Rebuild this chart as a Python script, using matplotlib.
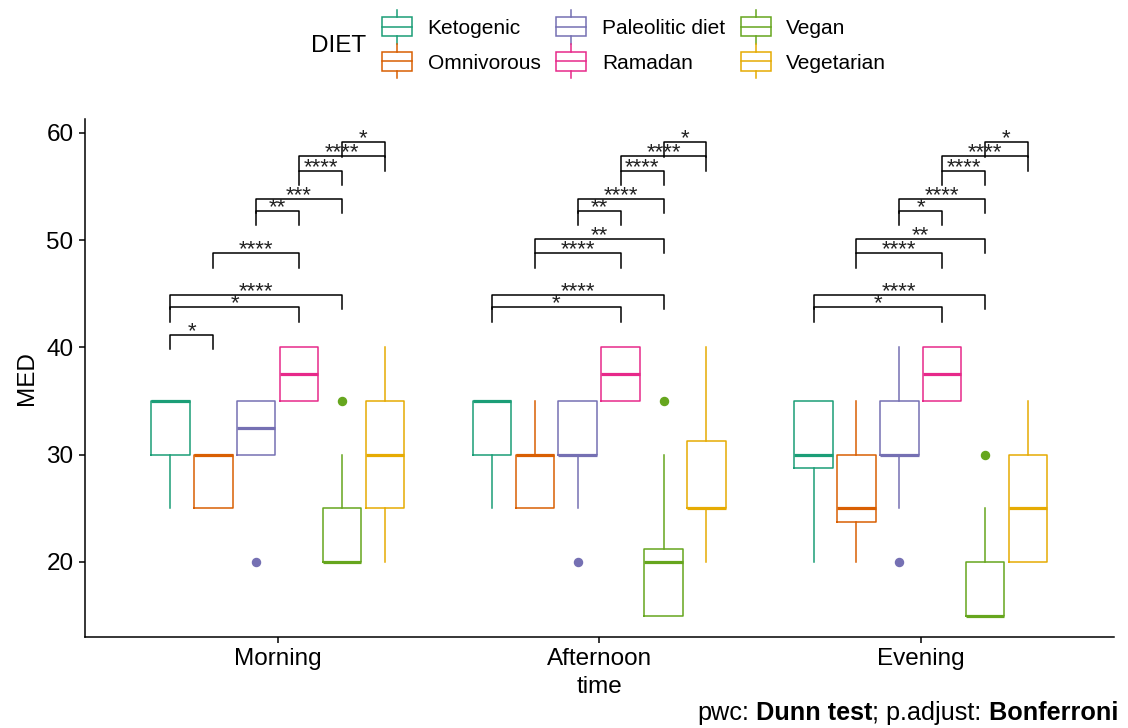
import matplotlib
matplotlib.use('Agg')
import matplotlib.pyplot as plt
from matplotlib.patches import Patch, Rectangle
from matplotlib.lines import Line2D
from matplotlib.legend_handler import HandlerBase

plt.rcParams['font.family'] = ['Liberation Sans', 'DejaVu Sans']

times = ['Morning', 'Afternoon', 'Evening']
diets = ['Ketogenic', 'Omnivorous', 'Paleolitic diet', 'Ramadan', 'Vegan', 'Vegetarian']
colors = ['#1B9E77', '#D95F02', '#7570B3', '#E7298A', '#66A61E', '#E6AB02']

# box stats per diet, one value per time (Morning, Afternoon, Evening)
q1 = [[30, 30, 28.75], [25, 25, 23.75], [30, 30, 30], [35, 35, 35], [20, 15, 15], [25, 25, 20]]
med = [[35, 35, 30], [30, 30, 25], [32.5, 30, 30], [37.5, 37.5, 37.5], [20, 20, 15], [30, 25, 25]]
q3 = [[35, 35, 35], [30, 30, 30], [35, 35, 35], [40, 40, 40], [25, 21.25, 20], [35, 31.25, 30]]
whislo = [[25, 25, 20], [25, 25, 20], [30, 25, 25], [35, 35, 35], [20, 15, 15], [20, 20, 20]]
whishi = [[35, 35, 35], [30, 35, 35], [35, 35, 40], [40, 40, 40], [30, 30, 25], [40, 40, 35]]
fliers = [[[], [], []], [[], [], []], [[20], [20], [20]], [[], [], []], [[35], [35], [30]], [[], [], []]]

# pairwise comparisons: (diet index 1, diet index 2, bracket height, label)
pwc_morning = [(0, 1, 41.18, '*'), (0, 3, 43.73, '*'), (0, 4, 44.91, '****'), (1, 3, 48.79, '****'),
               (2, 3, 52.74, '**'), (2, 4, 53.86, '***'), (3, 4, 56.47, '****'), (3, 5, 57.81, '****'),
               (4, 5, 59.15, '*')]
pwc_afternoon = [(0, 3, 43.73, '*'), (0, 4, 44.91, '****'), (1, 3, 48.79, '****'), (1, 4, 50.13, '**'),
                 (2, 3, 52.74, '**'), (2, 4, 53.86, '****'), (3, 4, 56.47, '****'), (3, 5, 57.81, '****'),
                 (4, 5, 59.15, '*')]
pwc_evening = [(0, 3, 43.73, '*'), (0, 4, 44.91, '****'), (1, 3, 48.79, '****'), (1, 4, 50.13, '**'),
               (2, 3, 52.74, '*'), (2, 4, 53.86, '****'), (3, 4, 56.47, '****'), (3, 5, 57.81, '****'),
               (4, 5, 59.15, '*')]
pwc = [pwc_morning, pwc_afternoon, pwc_evening]


class BoxKey(HandlerBase):
    def create_artists(self, legend, orig_handle, xdescent, ydescent, width, height, fontsize, trans):
        c = orig_handle.get_edgecolor()
        x0 = -xdescent
        cx = x0 + width / 2
        cy = -ydescent + height / 2
        bh = 0.92 * fontsize
        sh = 1.62 * fontsize
        rect = Rectangle((x0, cy - bh / 2), width, bh, fill=False, ec=c, lw=1.1, transform=trans)
        mline = Line2D([x0, x0 + width], [cy, cy], color=c, lw=1.1, transform=trans)
        top = Line2D([cx, cx], [cy + bh / 2, cy + sh / 2], color=c, lw=1.1, transform=trans)
        bot = Line2D([cx, cx], [cy - bh / 2, cy - sh / 2], color=c, lw=1.1, transform=trans)
        return [rect, mline, top, bot]


fig = plt.figure(figsize=(11.28, 7.28), dpi=100)
ax = fig.add_axes([0.0751, 0.125, 0.9122, 0.7115])

step = 0.8 / 6
offs = [(k - 2.5) * step for k in range(6)]

for k, d in enumerate(diets):
    c = colors[k]
    stats = []
    for t in range(3):
        stats.append(dict(med=med[k][t], q1=q1[k][t], q3=q3[k][t], whislo=whislo[k][t],
                          whishi=whishi[k][t], fliers=fliers[k][t]))
    ax.bxp(stats, positions=[t + offs[k] for t in range(3)], widths=0.12, showcaps=False,
           manage_ticks=False,
           boxprops=dict(color=c, lw=1.1), medianprops=dict(color=c, lw=2.3),
           whiskerprops=dict(color=c, lw=1.1),
           flierprops=dict(marker='o', markerfacecolor=c, markeredgecolor=c, markersize=5.8, linestyle='none'))

tip = 1.35
for t in range(3):
    for g1, g2, y, lab in pwc[t]:
        x1, x2 = t + offs[g1], t + offs[g2]
        ax.plot([x1, x1, x2, x2], [y - tip, y, y, y - tip], color='black', lw=1.1)
        ax.annotate(lab, ((x1 + x2) / 2, y), xytext=(0, -1.5), textcoords='offset points',
                    ha='center', va='baseline', fontsize=16, color='#222222')

ax.set_xlim(-0.6, 2.6)
ax.set_ylim(13.0, 61.3)
ax.set_xticks(range(3))
ax.set_xticklabels(times)
ax.set_yticks([20, 30, 40, 50, 60])
ax.tick_params(axis='both', labelsize=17.5, length=4, width=1.1, pad=4, colors='black')
for s in ['top', 'right']:
    ax.spines[s].set_visible(False)
for s in ['left', 'bottom']:
    ax.spines[s].set_linewidth(1.1)
ax.set_xlabel('time', fontsize=17.5, labelpad=4)
ax.set_ylabel('MED', fontsize=17.5, labelpad=6)

handles = [Patch(edgecolor=c, facecolor='none') for c in colors]
fig.legend(handles, diets, handler_map={Patch: BoxKey()}, ncol=3, loc='upper left',
           bbox_to_anchor=(382 / 1128, 1 - 19 / 728), frameon=False, fontsize=15,
           handlelength=1.44, handletextpad=0.75, columnspacing=0.75, labelspacing=0.75,
           borderpad=0, borderaxespad=0)
fig.text(311 / 1128, 1 - 46 / 728, 'DIET', fontsize=17.5, va='center', ha='left')

# caption with bold parts, each piece placed after the previous one
parts = [('pwc:', 'normal'), (' Dunn test', 'bold'), ('; p.adjust:', 'normal'), (' Bonferroni', 'bold')]
prev = fig.text(697 / 1128, 3 / 728, parts[0][0], fontsize=18.2, fontweight=parts[0][1],
                va='bottom', ha='left')
for txt, w in parts[1:]:
    prev = ax.annotate(txt, xy=(1, 0), xycoords=prev, fontsize=18.2, fontweight=w,
                       va='bottom', ha='left', annotation_clip=False)

fig.savefig('out.png', dpi=100)
